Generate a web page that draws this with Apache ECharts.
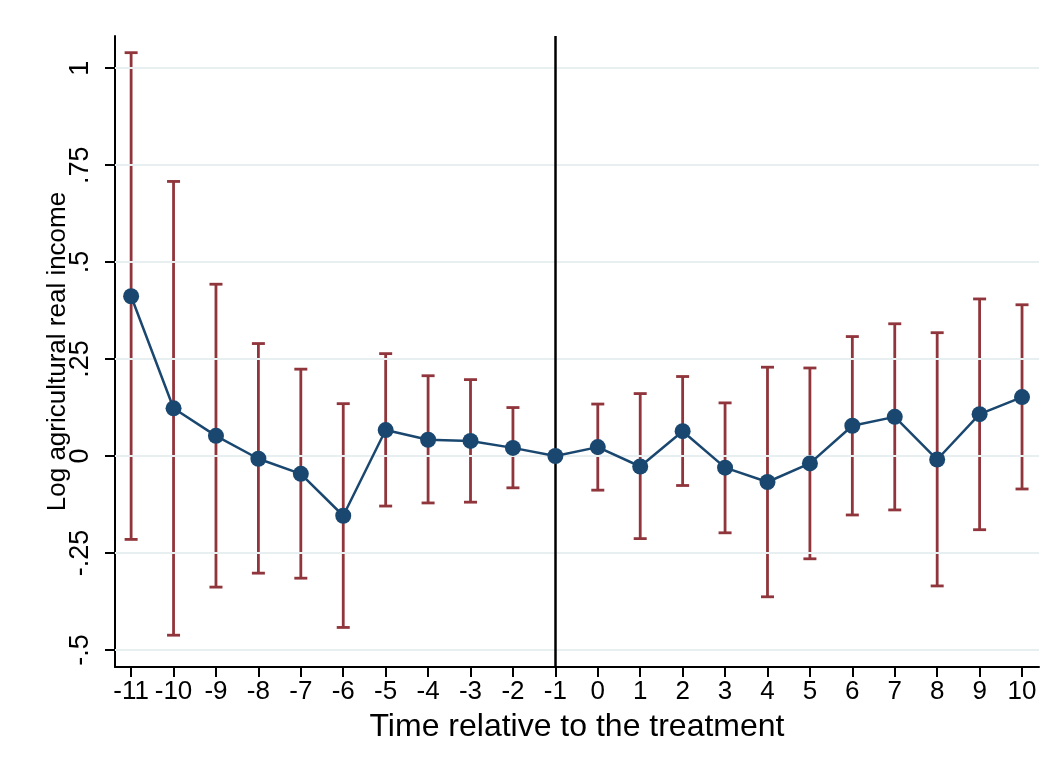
<!DOCTYPE html>
<html>
<head>
<meta charset="utf-8">
<script src="https://cdn.jsdelivr.net/npm/echarts@6/dist/echarts.min.js"></script>
<style>
html,body{margin:0;padding:0;background:#fff;}
#chart{width:1055px;height:771px;}
</style>
</head>
<body>
<div id="chart"></div>
<script>
const periods = [-11,-10,-9,-8,-7,-6,-5,-4,-3,-2,-1,0,1,2,3,4,5,6,7,8,9,10];
const estimates = [0.412,0.123,0.052,-0.007,-0.046,-0.154,0.067,0.042,0.039,0.021,0,0.023,-0.027,0.064,-0.030,-0.067,-0.019,0.078,0.101,-0.009,0.108,0.152];
const upperCI = [1.040,0.708,0.443,0.290,0.224,0.135,0.264,0.207,0.197,0.125,0,0.134,0.161,0.205,0.137,0.229,0.227,0.308,0.341,0.318,0.405,0.390];
const lowerCI = [-0.215,-0.462,-0.338,-0.302,-0.315,-0.442,-0.129,-0.121,-0.119,-0.082,0,-0.088,-0.213,-0.076,-0.198,-0.363,-0.265,-0.152,-0.139,-0.335,-0.190,-0.085];
const yTicks = [-0.5,-0.25,0,0.25,0.5,0.75,1];
const xTicks = periods;
const treatmentLine = -1;

const chart = echarts.init(document.getElementById('chart'), null, {renderer:'canvas'});
const FONT = 'Liberation Sans, Arial, Helvetica, sans-serif';
const fmtY = v => {
  if (Math.abs(v) < 1e-9) return '0';
  const s = String(Math.abs(v)).replace(/^0/, '');
  return (v < 0 ? '-' : '') + s;
};
const errData = periods.map((p,i)=>[p, lowerCI[i], upperCI[i]]);
const ptData = periods.map((p,i)=>[p, estimates[i]]);
const RED = '#90353b';
const NAVY = '#1a476f';

chart.setOption({
  backgroundColor:'#ffffff',
  animation:false,
  grid:{left:115, right:16, top:36, bottom:104, containLabel:false},
  xAxis:{
    type:'value', min:-11.38, max:10.4,
    name:'Time relative to the treatment', nameLocation:'middle', nameGap:44, nameMoveOverlap:false,
    nameTextStyle:{fontFamily:FONT, fontSize:32, color:'#000'},
    axisLine:{show:true, onZero:false, lineStyle:{color:'#000', width:2}},
    axisTick:{show:true, length:10, lineStyle:{color:'#000', width:2}, customValues:xTicks},
    axisLabel:{show:true, fontFamily:FONT, fontSize:26, color:'#000', margin:12, customValues:xTicks, formatter:v=>String(v)},
    splitLine:{show:false}
  },
  yAxis:{
    type:'value', min:-0.544, max:1.083,
    name:'Log agricultural real income', nameLocation:'middle', nameGap:44, nameRotate:90, nameMoveOverlap:false,
    nameTextStyle:{fontFamily:FONT, fontSize:26, color:'#000'},
    axisLine:{show:true, onZero:false, lineStyle:{color:'#000', width:2}},
    axisTick:{show:true, length:10, lineStyle:{color:'#000', width:2}, customValues:yTicks},
    axisLabel:{show:true, rotate:90, fontFamily:FONT, fontSize:27, color:'#000', margin:21, customValues:yTicks, formatter:fmtY},
    splitLine:{show:false}
  },
  series:[
    {
      type:'line', data:[], silent:true, z:1,
      markLine:{
        silent:true, symbol:'none', label:{show:false},
        lineStyle:{color:'#e8eff1', width:2, type:'solid'},
        data: yTicks.map(t=>({yAxis:t}))
      }
    },
    {
      type:'line', data:[], silent:true, z:3,
      markLine:{
        silent:true, symbol:'none', label:{show:false},
        lineStyle:{color:'#000', width:2.5, type:'solid'},
        data:[{xAxis:treatmentLine}]
      }
    },
    {
      type:'custom', z:4, silent:true,
      data: errData,
      encode:{x:0, y:[1,2]},
      renderItem:(params, api)=>{
        const x = api.value(0);
        const lo = api.coord([x, api.value(1)]);
        const hi = api.coord([x, api.value(2)]);
        const hw = 6.5;
        const st = {stroke:RED, lineWidth:2.8};
        return {type:'group', children:[
          {type:'line', shape:{x1:hi[0], y1:hi[1], x2:lo[0], y2:lo[1]}, style:st},
          {type:'line', shape:{x1:hi[0]-hw, y1:hi[1], x2:hi[0]+hw, y2:hi[1]}, style:st},
          {type:'line', shape:{x1:lo[0]-hw, y1:lo[1], x2:lo[0]+hw, y2:lo[1]}, style:st}
        ]};
      }
    },
    {
      type:'line', z:5, silent:true,
      data: ptData,
      symbol:'circle', symbolSize:16,
      lineStyle:{color:NAVY, width:2.5},
      itemStyle:{color:NAVY}
    }
  ]
});
</script>
</body>
</html>
